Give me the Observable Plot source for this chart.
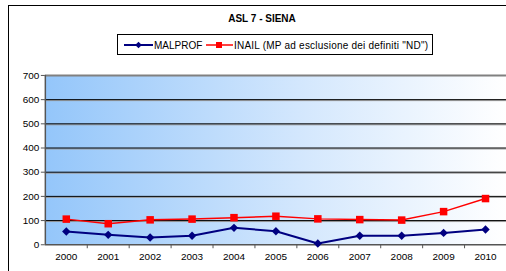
<!DOCTYPE html>
<html><head><meta charset="utf-8">
<script src="https://cdn.jsdelivr.net/npm/d3@7"></script>
<script src="https://cdn.jsdelivr.net/npm/@observablehq/plot@0.6"></script>
<style>
html,body{margin:0;padding:0;background:#fff;overflow:hidden;width:506px;height:271px;font-family:"Liberation Sans",Arial,sans-serif;}
#frame{position:absolute;left:8px;top:5px;width:600px;height:400px;border:1.5px solid #000;box-sizing:border-box;}
#title{position:absolute;left:0;width:524px;top:13px;text-align:center;font-weight:bold;font-size:10px;}
#legend{position:absolute;left:117px;top:34px;}
#chart{position:absolute;left:0;top:60px;}
</style></head>
<body>
<div id="frame"></div>
<div id="title">ASL 7 - SIENA</div>
<div id="legend"></div>
<div id="chart"></div>
<script>
const years = [2000,2001,2002,2003,2004,2005,2006,2007,2008,2009,2010];
const malprof = [55,41,30,37,70,56,5,37,37,49,63];
const inail = [106,87,103,106,112,118,107,104,102,137,191];
const seriesNames = ["MALPROF", "INAIL (MP ad esclusione dei definiti \"ND\")"];
const yTicks = [0,100,200,300,400,500,600,700];
const colors = ["#000080", "#ff0000"];

const rows = years.map((y,i)=>({year:y, m:malprof[i], n:inail[i]}));
const bounds = d3.range(years.length+1).map(i => years[0]-0.5+i);

const plot = Plot.plot({
  width: 508, height: 211,
  marginLeft: 45, marginRight: 0, marginTop: 15, marginBottom: 26,
  style: {fontFamily: '"Liberation Sans", Arial, sans-serif', fontSize: "10px", color: "#000", background: "transparent"},
  x: {type: "linear", domain: [bounds[0], bounds[bounds.length-1]]},
  y: {domain: [0,700]},
  marks: [
    Plot.frame({fill: "url(#bg)", stroke: null}),
    Plot.ruleY(yTicks.slice(1,-1), {stroke: "#999", strokeWidth: 1, dy: 1}),
    Plot.ruleY(yTicks.slice(1,-1), {stroke: "#000", strokeWidth: 1}),
    Plot.ruleY([700], {stroke: "#808080", strokeWidth: 2}),
    Plot.ruleY([0], {stroke: "#555", strokeWidth: 1.5}),
    Plot.ruleX([bounds[0]], {stroke: "#555", strokeWidth: 1.5}),
    Plot.axisY({ticks: yTicks, tickSize: 4, tickPadding: 2, label: null, stroke: "#555"}),
    Plot.axisX({ticks: years, tickSize: 0, tickPadding: 8, tickFormat: d => String(d), label: null}),
    Plot.axisX({ticks: bounds.slice(1,-1), tickSize: 4, tickFormat: () => "", label: null, stroke: "#555"}),
    Plot.line(rows, {x: "year", y: "n", stroke: colors[1], strokeWidth: 1.5}),
    Plot.line(rows, {x: "year", y: "m", stroke: colors[0], strokeWidth: 2}),
    Plot.dot(rows, {x: "year", y: "n", symbol: "square2", r: 4.8, fill: colors[1], stroke: null}),
    Plot.dot(rows, {x: "year", y: "m", symbol: "diamond2", r: 3.8, fill: colors[0], stroke: null})
  ]
});
const defs = d3.select(plot).insert("defs", ":first-child");
const g = defs.append("linearGradient").attr("id","bg").attr("x1","0").attr("x2","1").attr("y1","0").attr("y2","0");
g.append("stop").attr("offset","0%").attr("stop-color","#94c6fa");
g.append("stop").attr("offset","55%").attr("stop-color","#d3e7fd");
g.append("stop").attr("offset","100%").attr("stop-color","#ffffff");
document.getElementById("chart").appendChild(plot);

// legend
const lg = d3.select("#legend").append("svg").attr("width", 318).attr("height", 22);
lg.append("rect").attr("x",0.5).attr("y",0.5).attr("width",315).attr("height",20).attr("fill","#fff").attr("stroke","#000");
lg.append("line").attr("x1",7).attr("x2",36).attr("y1",11).attr("y2",11).attr("stroke",colors[0]).attr("stroke-width",2);
lg.append("path").attr("d", d3.symbol(d3.symbolDiamond2, 28)()).attr("transform","translate(21.5,11)").attr("fill",colors[0]);
lg.append("text").attr("x",37).attr("y",14.5).attr("font-size","10px").text(seriesNames[0]);
lg.append("line").attr("x1",89).attr("x2",116).attr("y1",11).attr("y2",11).attr("stroke",colors[1]).attr("stroke-width",1.5);
lg.append("rect").attr("x",99).attr("y",8).attr("width",6).attr("height",6).attr("fill",colors[1]);
lg.append("text").attr("x",117).attr("y",14.5).attr("font-size","10px").attr("textLength",194).text(seriesNames[1]);
</script>
</body></html>
